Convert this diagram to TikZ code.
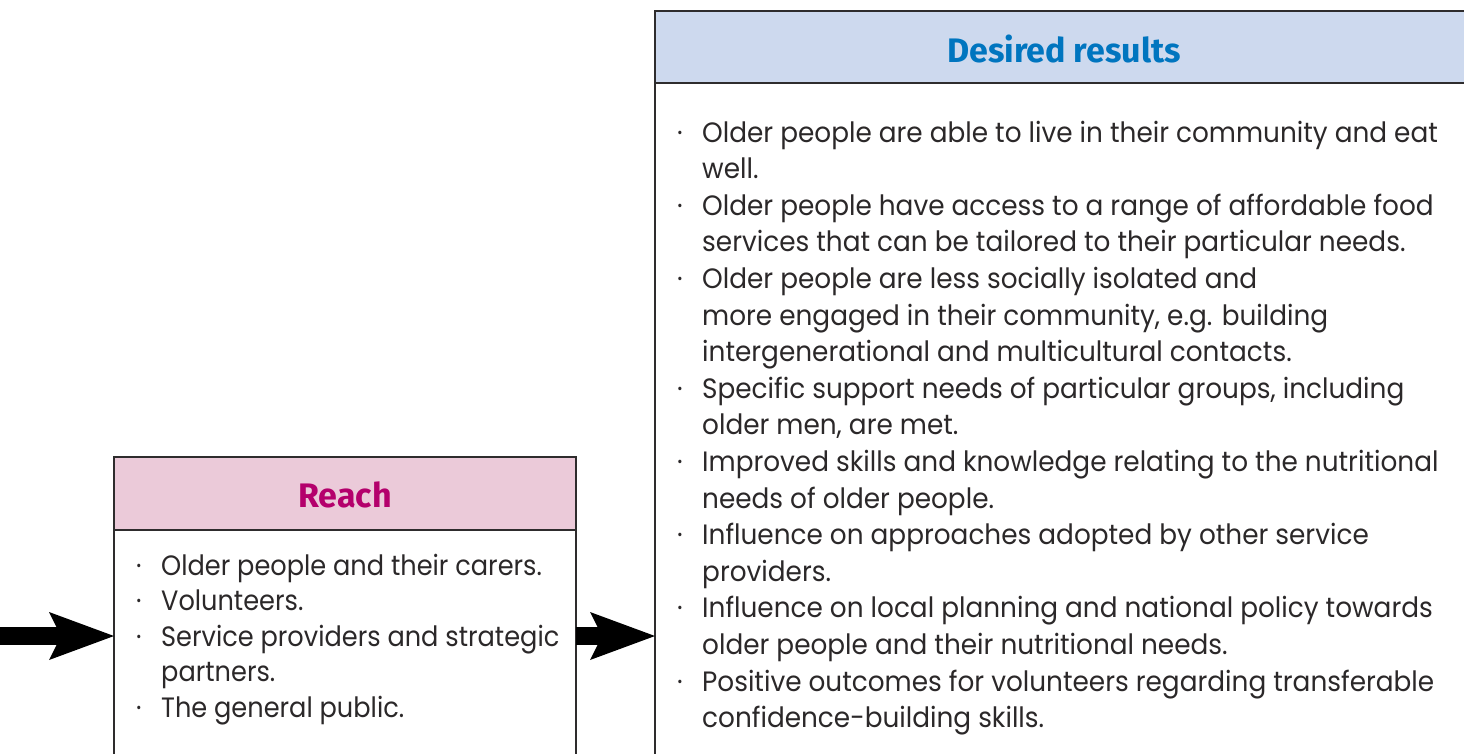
\documentclass[tikz,border=0pt]{standalone}
\usepackage{fontspec}
\usetikzlibrary{arrows.meta}
\newfontfamily\bodyfont[FakeStretch=0.94]{Poppins}
\newfontfamily\narrowbodyfont[FakeStretch=0.915]{Poppins}
\newfontfamily\headfont{Fira Sans}
\definecolor{framegray}{HTML}{2E2C2D}
\definecolor{inktext}{HTML}{2B2829}
\definecolor{bluefill}{HTML}{CDD9EE}
\definecolor{pinkfill}{HTML}{EBCAD9}
\definecolor{bluetitle}{HTML}{0075BF}
\definecolor{pinktitle}{HTML}{B4006C}
\newcommand\itemdot{\makebox[25pt][l]{\textperiodcentered}}
\newcommand\itemskip{\hspace*{25pt}}

\begin{document}
\begin{tikzpicture}[x=1pt,y=-1pt,
  panel/.style={draw=framegray, line width=2pt, inner sep=0pt, outer sep=0pt, anchor=north west},
  titletext/.style={anchor=base, inner sep=0pt, font=\headfont\bfseries\fontsize{34}{34}\selectfont},
  bodytext/.style={anchor=base west, inner sep=0pt, text=inktext, font=\bodyfont\fontsize{28}{32}\selectfont},
  reachtext/.style={bodytext, font=\narrowbodyfont\fontsize{28}{32}\selectfont},
  bigarrow/.style={draw=black, line width=18pt,
    -{Stealth[length=65pt, width=48pt, inset=12pt, line width=0pt]}}]
\useasboundingbox (0,0) rectangle (1464,753);
\clip (0,0) rectangle (1464,753);

% Desired results panel
\node[panel, fill=bluefill, minimum width=820pt, minimum height=72pt] (deshead) at (655,11) {};
\node[panel, fill=white, minimum width=820pt, minimum height=690pt] (desbody) at (655,83) {};
\node[titletext, text=bluetitle] (destitle) at (1064,62) {Desired results};

% Reach panel
\node[panel, fill=pinkfill, minimum width=462pt, minimum height=73pt] (reachhead) at (114,457) {};
\node[panel, fill=white, minimum width=462pt, minimum height=240pt] (reachbody) at (114,530) {};
\node[titletext, text=pinktitle] (reachtitle) at (345,507) {Reach};

% Desired results list
\foreach \line [count=\i from 0] in {
  {\itemdot Older people are able to live in their community and eat},
  {\itemskip well.},
  {\itemdot Older people have access to a range of affordable food},
  {\itemskip services that can be tailored to their particular needs.},
  {\itemdot Older people are less socially isolated and},
  {\itemskip more engaged in their community, e.g. building},
  {\itemskip intergenerational and multicultural contacts.},
  {\itemdot Specific support needs of particular groups, including},
  {\itemskip older men, are met.},
  {\itemdot Improved skills and knowledge relating to the nutritional},
  {\itemskip needs of older people.},
  {\itemdot Influence on approaches adopted by other service},
  {\itemskip providers.},
  {\itemdot Influence on local planning and national policy towards},
  {\itemskip older people and their nutritional needs.},
  {\itemdot Positive outcomes for volunteers regarding transferable},
  {\itemskip confidence-building skills.}}
  \node[bodytext] (des-\i) at (677,142+36.6*\i) {\line};

% Reach list
\foreach \line [count=\i from 0] in {
  {\itemdot Older people and their carers.},
  {\itemdot Volunteers.},
  {\itemdot Service providers and strategic},
  {\itemskip partners.},
  {\itemdot The general public.}}
  \node[reachtext] (reach-\i) at (136,575+35.5*\i) {\line};

% Flow arrows
\coordinate (flowin) at (-10,636);
\draw[bigarrow] (flowin) -- (flowin -| reachbody.west);
\draw[bigarrow] (flowin -| reachbody.east) -- (flowin -| desbody.west);
\end{tikzpicture}
\end{document}
